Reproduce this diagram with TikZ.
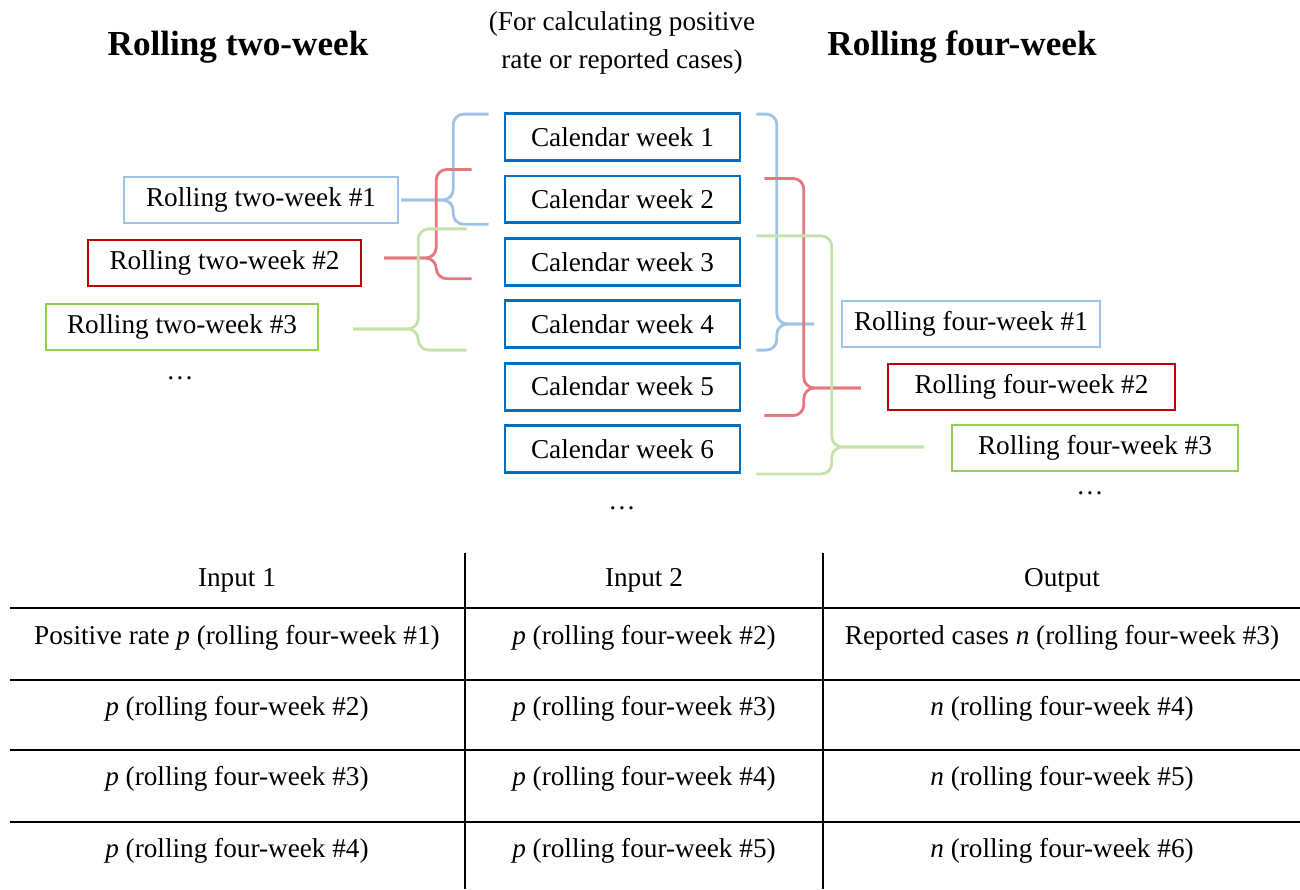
\documentclass[tikz,border=0pt]{standalone}
\usepackage{fontspec}
\setmainfont{Liberation Serif}
\usepackage{tikz}
\usetikzlibrary{positioning,calc}
\definecolor{calblue}{RGB}{0,112,192}
\definecolor{paleblue}{RGB}{157,195,230}
\definecolor{darkred}{RGB}{192,0,0}
\definecolor{leafgreen}{RGB}{146,208,80}
\definecolor{bracered}{RGB}{229,120,122}
\definecolor{bracegreen}{RGB}{197,226,170}
\tikzstyle{txt} = [font=\fontsize{15.5}{18}\selectfont, inner sep=0pt]
\tikzstyle{headline} = [font=\fontsize{20}{24}\selectfont\bfseries, inner sep=0pt]
\tikzstyle{calbox} = [draw=calblue, line width=1.6pt, minimum width=4.7cm,
    minimum height=0.94cm, font=\fontsize{15.5}{18}\selectfont]
\tikzstyle{rollbox} = [line width=1.4pt, minimum height=0.92cm,
    font=\fontsize{15.5}{18}\selectfont]
\tikzstyle{brace} = [line width=1.6pt, rounded corners=6pt]
\tikzstyle{rule} = [line width=1.3pt]

\begin{document}
\begin{tikzpicture}[x=0.02cm, y=-0.02cm]
\useasboundingbox (0,0) rectangle (1300,889);
% titles
\node[headline] (title2) at (238,47) {Rolling two-week};
\node[headline] (title4) at (962,47) {Rolling four-week};
\node[txt, align=center, font=\fontsize{15.5}{21.5}\selectfont] (note) at (622,43)
    {(For calculating positive\\rate or reported cases)};

% calendar weeks
\foreach \i in {1,...,6}
    \node[calbox] (cw\i) at (622.5,{137+62.4*(\i-1)}) {Calendar week \i};
\node[txt] (cdots) at (622,508) {\dots};

% rolling two-week
\node[rollbox, draw=paleblue, minimum width=5.48cm] (tw1) at (261,200) {Rolling two-week \#1};
\node[rollbox, draw=darkred, minimum width=5.46cm] (tw2) at (224.5,263) {Rolling two-week \#2};
\node[rollbox, draw=leafgreen, minimum width=5.44cm] (tw3) at (182,327) {Rolling two-week \#3};
\node[txt] (twdots) at (180,378) {\dots};

% rolling four-week
\node[rollbox, draw=paleblue, minimum width=5.16cm] (fw1) at (971,324) {Rolling four-week \#1};
\node[rollbox, draw=darkred, minimum width=5.74cm] (fw2) at (1031.5,387) {Rolling four-week \#2};
\node[rollbox, draw=leafgreen, minimum width=5.72cm] (fw3) at (1095,448) {Rolling four-week \#3};
\node[txt] (fwdots) at (1090,493) {\dots};

% braces, two-week
\draw[brace, paleblue] ($(cw1.north west)+(-15,2)$) -| ($(tw1.east)+(54,0)$) -- ($(tw1.east)+(2,0)$);
\draw[brace, paleblue] ($(cw2.south west)+(-15,0)$) -| ($(tw1.east)+(54,0)$) -- ($(tw1.east)+(2,0)$);
\draw[brace, bracered] ($(cw2.north west)+(-32,-5)$) -| ($(tw2.east)+(74,-5)$) -- ($(tw2.east)+(22,-5)$);
\draw[brace, bracered] ($(cw3.south west)+(-32,-8)$) -| ($(tw2.east)+(74,-5)$) -- ($(tw2.east)+(22,-5)$);
\draw[brace, bracegreen] ($(cw3.north west)+(-37,-8)$) -| ($(tw3.east)+(99,2)$) -- ($(tw3.east)+(34,2)$);
\draw[brace, bracegreen] ($(cw4.south west)+(-37,1)$) -| ($(tw3.east)+(99,2)$) -- ($(tw3.east)+(34,2)$);

% braces, four-week
\draw[brace, paleblue] ($(cw1.north east)+(15,2)$) -| ($(fw1.west)+(-64,0)$) -- ($(fw1.west)+(-27,0)$);
\draw[brace, paleblue] ($(cw4.south east)+(15,1)$) -| ($(fw1.west)+(-64,0)$) -- ($(fw1.west)+(-27,0)$);
\draw[brace, bracered] ($(cw2.north east)+(23,4)$) -| ($(fw2.west)+(-83,1)$) -- ($(fw2.west)+(-26,1)$);
\draw[brace, bracered] ($(cw5.south east)+(23,4)$) -| ($(fw2.west)+(-83,1)$) -- ($(fw2.west)+(-26,1)$);
\draw[brace, bracegreen] ($(cw3.north east)+(15,-1)$) -| ($(fw3.west)+(-119,-1)$) -- ($(fw3.west)+(-27,-1)$);
\draw[brace, bracegreen] ($(cw6.south east)+(15,0)$) -| ($(fw3.west)+(-119,-1)$) -- ($(fw3.west)+(-27,-1)$);

% table
\draw[rule] (465,553) -- (465,889) (823,553) -- (823,889);
\foreach \y in {608,680,750,822}
    \draw[rule] (10,\y) -- (1300,\y);
\node[txt] (h1) at (237,580) {Input 1};
\node[txt] (h2) at (644,580) {Input 2};
\node[txt] (h3) at (1062,580) {Output};
\node[txt] (a1) at (237,638) {Positive rate \textit{p} (rolling four-week \#1)};
\node[txt] (b1) at (644,638) {\textit{p} (rolling four-week \#2)};
\node[txt] (c1) at (1062,638) {Reported cases \textit{n} (rolling four-week \#3)};
\foreach \r/\y in {2/709,3/779,4/851} {
    \pgfmathtruncatemacro{\pa}{\r}
    \pgfmathtruncatemacro{\pb}{\r+1}
    \pgfmathtruncatemacro{\pc}{\r+2}
    \node[txt] (a\r) at (237,\y) {\textit{p} (rolling four-week \#\pa)};
    \node[txt] (b\r) at (644,\y) {\textit{p} (rolling four-week \#\pb)};
    \node[txt] (c\r) at (1062,\y) {\textit{n} (rolling four-week \#\pc)};
}
\end{tikzpicture}
\end{document}
